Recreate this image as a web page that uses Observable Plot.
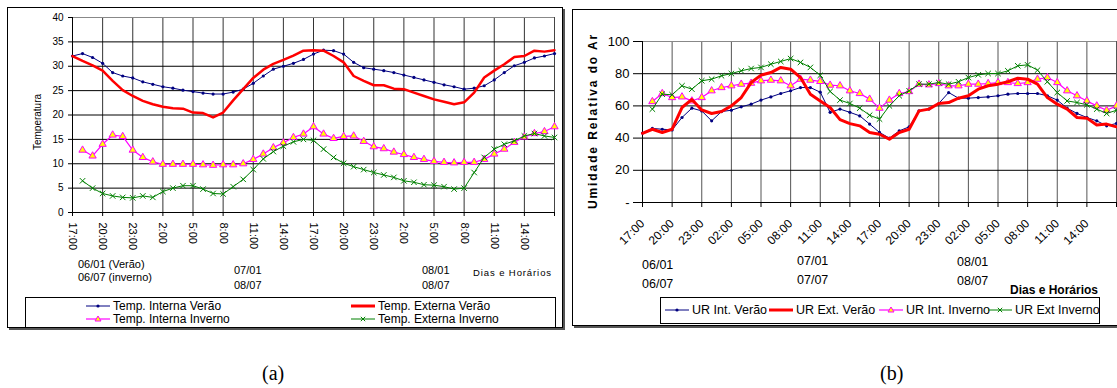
<!DOCTYPE html>
<html>
<head>
<meta charset="utf-8">
<script src="https://cdn.jsdelivr.net/npm/d3@7"></script>
<script src="https://cdn.jsdelivr.net/npm/@observablehq/plot@0.6"></script>
<style>
  html, body { margin: 0; padding: 0; background: #fff; }
  body { width: 1117px; height: 388px; position: relative; overflow: hidden;
         font-family: "Liberation Sans", Arial, sans-serif; color: #000; }
  .frame { position: absolute; border: 1px solid #000; box-shadow: 2px 2px 0 #555; background: #fff; }
  .abs { position: absolute; white-space: nowrap; line-height: 1; }
  .plot { position: absolute; top: 0; }
  .legend { position: absolute; border: 1px solid #000; background: #fff; }
  .item { position: absolute; white-space: nowrap; display: flex; align-items: center; line-height: 1; }
  .item svg { display: block; margin-right: 3px; }
  .rot { position: absolute; white-space: nowrap; line-height: 1; transform: translate(-50%, -50%) rotate(-90deg); }
  .cap { position: absolute; font-family: "Liberation Serif", "Times New Roman", serif; font-size: 20px; line-height: 1; }
</style>
</head>
<body>
<div class="frame" style="left:7px; top:7px; width:554px; height:319px;"></div>
<div class="frame" style="left:572px; top:9px; width:560px; height:315px;"></div>
<div id="chartA" class="plot" style="left:0px;"></div>
<div id="chartB" class="plot" style="left:570px;"></div>

<!-- panel (a) texts -->
<div class="rot" style="left:38px; top:122px; font-size:10px;">Temperatura</div>
<div class="abs" style="left:78px; top:259px; font-size:11px;">06/01 (Verão)</div>
<div class="abs" style="left:78px; top:272px; font-size:11px;">06/07 (inverno)</div>
<div class="abs" style="left:234px; top:265px; font-size:11px;">07/01</div>
<div class="abs" style="left:234px; top:280px; font-size:11px;">08/07</div>
<div class="abs" style="left:422px; top:265px; font-size:11px;">08/01</div>
<div class="abs" style="left:422px; top:280px; font-size:11px;">08/07</div>
<div class="abs" style="left:473px; top:268px; font-size:9.5px; letter-spacing:0.9px;">Dias e Horários</div>
<div class="legend" id="legA" style="left:25px; top:297px; width:529px; height:29px;"></div>

<!-- panel (b) texts -->
<div class="rot" style="left:593px; top:121px; font-size:12px; font-weight:bold; letter-spacing:1.9px;">Umidade Relativa do Ar</div>
<div class="abs" style="left:642px; top:259px; font-size:12.5px;">06/01</div>
<div class="abs" style="left:642px; top:278px; font-size:12.5px;">06/07</div>
<div class="abs" style="left:797px; top:255px; font-size:12.5px;">07/01</div>
<div class="abs" style="left:797px; top:274px; font-size:12.5px;">07/07</div>
<div class="abs" style="left:957px; top:256px; font-size:12.5px;">08/01</div>
<div class="abs" style="left:957px; top:275px; font-size:12.5px;">08/07</div>
<div class="abs" style="left:1010px; top:284px; font-size:12px; font-weight:bold;">Dias e Horários</div>
<div class="legend" id="legB" style="left:660px; top:297px; width:438px; height:25px;"></div>

<div class="cap" style="left:262px; top:363px;">(a)</div>
<div class="cap" style="left:880px; top:363px;">(b)</div>

<script>
// ---------- data ----------
const hours = [0,1,2,3,4,5,6,7,8,9,10,11,12,13,14,15,16,17,18,19,20,21,22,23,24,25,26,27,28,29,30,31,32,33,34,35,36,37,38,39,40,41,42,43,44,45,46,47,48];
const tickHours = [0,3,6,9,12,15,18,21,24,27,30,33,36,39,42,45];
const gridHours = [0,3,6,9,12,15,18,21,24,27,30,33,36,39,42,45,48];
const tickLabelsA = ["17:00","20:00","23:00","2:00","5:00","8:00","11:00","14:00","17:00","20:00","23:00","2:00","5:00","8:00","11:00","14:00"];
const tickLabelsB = ["17:00","20:00","23:00","02:00","05:00","08:00","11:00","14:00","17:00","20:00","23:00","02:00","05:00","08:00","11:00","14:00"];
const tempTicks = [0,5,10,15,20,25,30,35,40];
const urTicks = [0,20,40,60,80,100];

// (a) Temperatura
const tempIntVerao = [32.1,32.6,31.8,30.6,28.7,28.0,27.6,26.8,26.3,25.8,25.5,25.1,24.8,24.5,24.3,24.3,24.7,25.3,26.5,28.0,29.4,30.0,30.6,31.4,32.5,33.3,33.2,32.5,30.8,29.7,29.4,29.1,28.7,28.2,27.7,27.2,26.7,26.2,25.8,25.3,25.5,26.0,27.2,28.7,30.1,30.8,31.7,32.1,32.6];
const tempExtVerao = [32.1,31.1,30.2,29.1,27.0,25.1,23.9,22.9,22.2,21.7,21.4,21.3,20.5,20.4,19.5,20.5,23.0,25.3,27.6,29.3,30.5,31.3,32.2,33.2,33.3,33.2,32.1,30.8,28.0,27.0,26.1,26.1,25.4,25.3,24.6,23.9,23.2,22.7,22.2,22.6,24.6,27.7,29.1,30.4,31.9,32.1,33.2,33.0,33.3];
const tempIntInverno = [null,12.8,11.6,14.0,15.9,15.6,12.8,11.3,10.4,9.9,9.9,9.9,9.9,9.8,9.7,9.8,9.8,10.0,10.9,12.0,13.3,14.3,15.4,16.1,17.6,16.1,15.2,15.6,15.7,14.6,13.5,13.1,12.4,11.9,11.3,10.9,10.5,10.3,10.2,10.3,10.3,10.9,12.0,13.0,14.4,15.5,16.2,16.6,17.6];
const tempExtInverno = [null,6.5,5.0,3.9,3.4,3.1,3.0,3.4,3.1,4.3,5.0,5.5,5.5,4.8,3.9,3.8,5.3,6.8,8.8,11.0,12.5,13.6,14.5,15.0,14.8,13.0,11.3,10.1,9.4,8.8,8.2,7.7,7.2,6.5,6.2,5.7,5.6,5.3,4.8,5.0,8.2,11.3,13.0,14.0,14.7,15.7,16.2,15.7,15.4];

// (b) Umidade relativa
const urIntVerao = [43.1,46.0,45.5,45.1,52.8,58.6,56.9,50.7,56.5,57.3,59.4,61.1,63.6,65.6,67.7,69.4,71.4,71.4,68.5,56.0,58.0,56.0,53.8,48.7,43.5,40.0,44.5,47.0,56.9,58.0,61.5,68.3,64.8,64.8,65.2,65.6,66.3,67.3,67.7,67.7,67.7,66.3,63.6,58.6,55.3,52.8,50.7,47.6,49.1];
const urExtVerao = [43.0,45.5,43.5,45.5,59.0,64.0,57.5,55.3,56.5,60.0,65.2,74.5,79.1,80.7,83.9,82.8,77.6,67.3,63.1,59.0,51.5,49.0,47.6,43.5,42.4,39.3,43.5,45.5,56.9,58.0,61.5,62.1,64.8,66.3,70.4,72.5,73.5,75.0,77.2,76.6,73.5,65.2,61.1,58.0,52.8,52.4,48.2,48.7,47.0];
const urIntInverno = [null,62.7,67.7,65.2,65.6,63.1,65.2,69.4,71.4,72.5,73.5,74.1,75.6,76.0,75.6,72.5,76.6,76.0,75.2,72.9,72.5,69.4,67.7,64.2,58.6,63.6,67.7,68.9,73.5,73.1,73.9,72.5,72.5,73.5,73.5,73.9,74.5,74.5,73.9,74.5,76.6,77.6,74.5,69.4,66.3,63.1,60.0,57.3,60.0];
const urExtInverno = [null,58.0,67.3,66.9,72.5,70.4,75.6,76.6,78.7,80.1,81.8,83.2,83.9,85.9,87.6,89.4,87.0,83.9,79.0,69.0,63.6,61.5,58.6,54.2,51.8,60.0,66.3,69.4,73.5,73.5,74.5,73.5,75.0,77.6,79.3,80.1,80.1,81.8,84.9,85.5,82.2,75.0,68.3,63.1,62.1,60.7,58.0,55.3,57.3];

const C = { navy: "#000080", red: "#ff0000", magenta: "#ff00ff", yellow: "#ffff00", green: "#008000" };

function series(vals) {
  return hours.map((h, i) => ({ h, v: vals[i] })).filter(d => d.v != null);
}

function seriesMarks(a, b, c, d, redWidth) {
  return [
    Plot.line(series(a), { x: "h", y: "v", stroke: C.navy, strokeWidth: 1 }),
    Plot.dot(series(a), { x: "h", y: "v", r: 1.6, fill: C.navy }),
    Plot.line(series(c), { x: "h", y: "v", stroke: C.magenta, strokeWidth: 1.2 }),
    Plot.dot(series(c), { x: "h", y: "v", symbol: "triangle", r: 2.7, fill: C.yellow, stroke: C.magenta, strokeWidth: 1 }),
    Plot.line(series(d), { x: "h", y: "v", stroke: C.green, strokeWidth: 1 }),
    Plot.dot(series(d), { x: "h", y: "v", symbol: "times", r: 2.6, stroke: C.green, strokeWidth: 1 }),
    Plot.line(series(b), { x: "h", y: "v", stroke: C.red, strokeWidth: redWidth })
  ];
}

const baseStyle = { background: "transparent", overflow: "visible", fontFamily: "Liberation Sans, Arial, sans-serif", color: "#000" };

// ---------- panel (a) ----------
const plotA = Plot.plot({
  width: 570, height: 262,
  marginLeft: 72, marginRight: 16, marginTop: 17, marginBottom: 50,
  style: baseStyle,
  x: { domain: [0, 48] },
  y: { domain: [0, 40] },
  marks: [
    Plot.gridX(gridHours, { stroke: "#333", strokeOpacity: 1 }),
    Plot.gridY(tempTicks, { stroke: "#000", strokeOpacity: 1 }),
    Plot.ruleY([40], { stroke: "#888" }),
    Plot.ruleX([48], { stroke: "#444" }),
    Plot.ruleX([0], { stroke: "#000" }),
    Plot.ruleY([0], { stroke: "#000" }),
    Plot.axisY(tempTicks, { tickSize: 4, tickPadding: 5, fontSize: 10, label: null }),
    Plot.axisX(gridHours, { tickSize: 4, tickFormat: null, label: null, text: null }),
    Plot.axisX(tickHours, { tickFormat: d => tickLabelsA[tickHours.indexOf(d)], tickRotate: 90, tickSize: 0, tickPadding: 10, fontSize: 11, label: null }),
    ...seriesMarks(tempIntVerao, tempExtVerao, tempIntInverno, tempExtInverno, 2.5)
  ]
});
document.getElementById("chartA").appendChild(plotA);

// ---------- panel (b) ----------
const plotB = Plot.plot({
  width: 547, height: 262,
  marginLeft: 72, marginRight: 1, marginTop: 41, marginBottom: 60,
  style: baseStyle,
  x: { domain: [0, 48] },
  y: { domain: [0, 100] },
  marks: [
    Plot.gridX(gridHours, { stroke: "#555", strokeOpacity: 1 }),
    Plot.gridY(urTicks, { stroke: "#000", strokeOpacity: 1 }),
    Plot.ruleY([100], { stroke: "#888" }),
    Plot.ruleX([0], { stroke: "#000" }),
    Plot.ruleY([0], { stroke: "#000" }),
    Plot.axisY(urTicks, { tickSize: 9, tickPadding: 4, fontSize: 13, label: null, tickFormat: d => d === 0 ? "-" : String(d) }),
    Plot.axisX(gridHours, { tickSize: 5, tickFormat: null, label: null, text: null }),
    Plot.axisX(tickHours, { tickFormat: d => tickLabelsB[tickHours.indexOf(d)], tickRotate: -45, tickSize: 0, tickPadding: 19, fontSize: 12, label: null }),
    ...seriesMarks(urIntVerao, urExtVerao, urIntInverno, urExtInverno, 3)
  ]
});
document.getElementById("chartB").appendChild(plotB);

// ---------- legends ----------
function swatch(kind) {
  const w = 24, h = 10, y = 5;
  let s = `<svg width="${w}" height="${h}" viewBox="0 0 ${w} ${h}">`;
  if (kind === "blue") s += `<line x1="0" x2="${w}" y1="${y}" y2="${y}" stroke="${C.navy}" stroke-width="1"/><circle cx="${w/2}" cy="${y}" r="1.6" fill="${C.navy}"/>`;
  if (kind === "red") s += `<line x1="0" x2="${w}" y1="${y}" y2="${y}" stroke="${C.red}" stroke-width="3"/>`;
  if (kind === "pink") s += `<line x1="0" x2="${w}" y1="${y}" y2="${y}" stroke="${C.magenta}" stroke-width="1.2"/><path d="M${w/2},${y-3} L${w/2+3},${y+2} L${w/2-3},${y+2} Z" fill="${C.yellow}" stroke="${C.magenta}" stroke-width="1"/>`;
  if (kind === "green") s += `<line x1="0" x2="${w}" y1="${y}" y2="${y}" stroke="${C.green}" stroke-width="1"/><path d="M${w/2-2.2},${y-2.2} L${w/2+2.2},${y+2.2} M${w/2-2.2},${y+2.2} L${w/2+2.2},${y-2.2}" stroke="${C.green}" stroke-width="1"/>`;
  return s + `</svg>`;
}
const legendA = [
  { kind: "blue", label: "Temp. Interna Verão", x: 60, y: 2 },
  { kind: "red", label: "Temp. Externa Verão", x: 325, y: 2 },
  { kind: "pink", label: "Temp. Interna Inverno", x: 60, y: 15 },
  { kind: "green", label: "Temp. Externa Inverno", x: 325, y: 15 }
];
const legendB = [
  { kind: "blue", label: "UR Int. Verão", x: 4, y: 6 },
  { kind: "red", label: "UR Ext. Verão", x: 108, y: 6 },
  { kind: "pink", label: "UR Int. Inverno", x: 218, y: 6 },
  { kind: "green", label: "UR Ext Inverno", x: 327, y: 6 }
];
function buildLegend(id, items, fs) {
  const el = document.getElementById(id);
  el.innerHTML = items.map(it =>
    `<div class="item" style="left:${it.x}px; top:${it.y}px; font-size:${fs}px;">${swatch(it.kind)}<span>${it.label}</span></div>`
  ).join("");
}
buildLegend("legA", legendA, 12);
buildLegend("legB", legendB, 12.5);
</script>
</body>
</html>
